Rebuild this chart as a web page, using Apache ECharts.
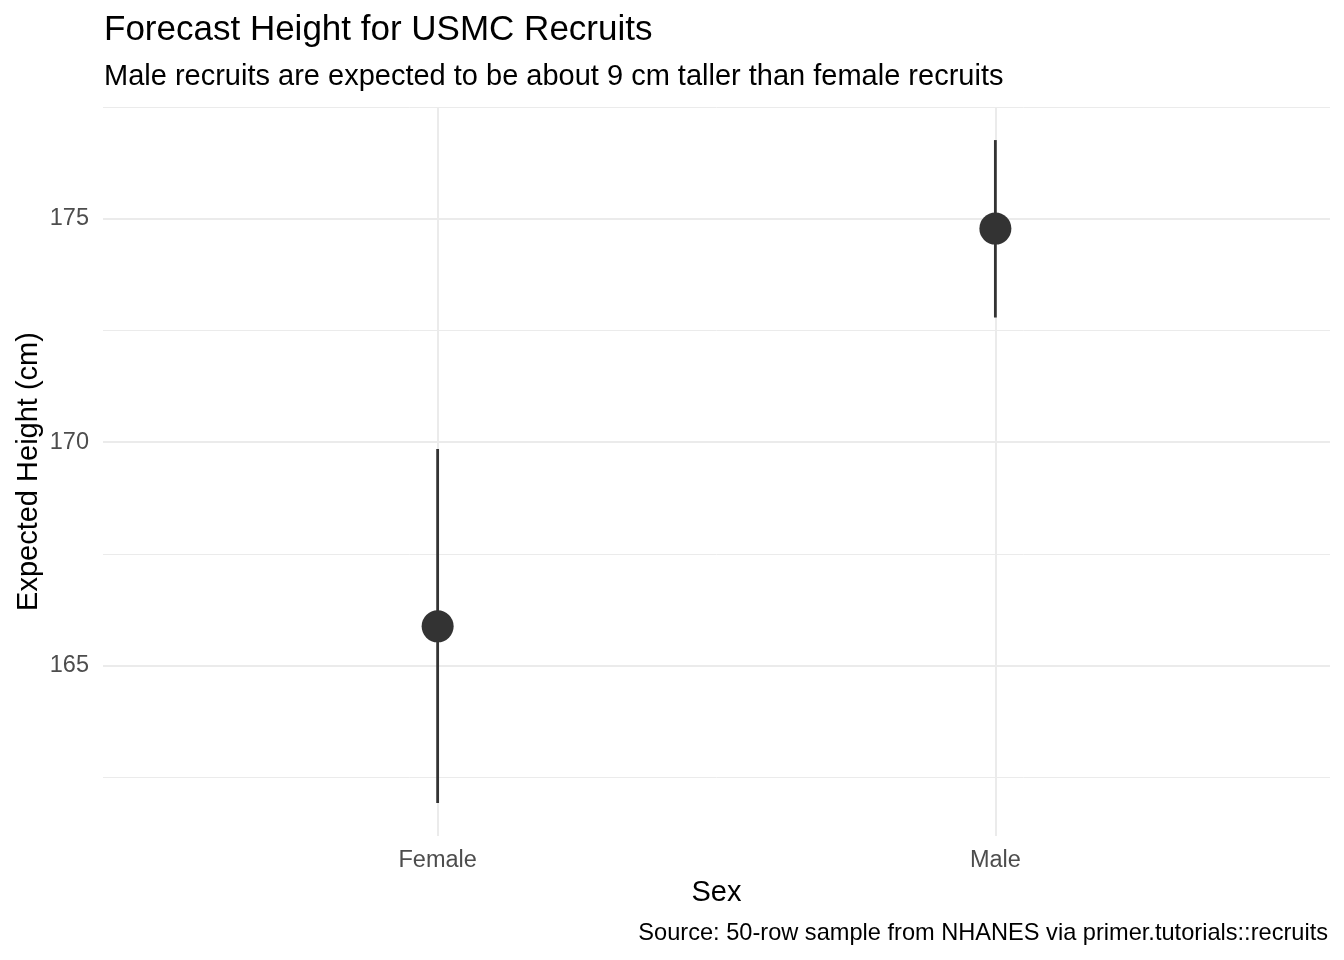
<!DOCTYPE html>
<html><head><meta charset="utf-8">
<script src="https://cdn.jsdelivr.net/npm/echarts@6/dist/echarts.min.js"></script>
<style>html,body{margin:0;padding:0;background:#fff}#c{width:1344px;height:960px}</style>
</head><body><div id="c"></div>
<script>
const categories = ['Female', 'Male'];
const estimates = [165.88, 174.78];
const lower = [161.93, 172.79];
const upper = [169.85, 176.76];
const majorTicks = [165, 170, 175];
const minorTicks = [162.5, 167.5, 172.5, 177.5];
const yRange = [161.19, 177.5];
const titleText = 'Forecast Height for USMC Recruits';
const subtitleText = 'Male recruits are expected to be about 9 cm taller than female recruits';
const captionText = 'Source: 50-row sample from NHANES via primer.tutorials::recruits';
const xTitle = 'Sex';
const yTitle = 'Expected Height (cm)';

const FONT = '"Liberation Sans", Arial, sans-serif';
const xPos = categories.map((c, i) => i + 1);

const chart = echarts.init(document.getElementById('c'), null, {renderer: 'canvas'});
const option = {
  backgroundColor: '#ffffff',
  animation: false,
  textStyle: {fontFamily: FONT},
  title: [
    {text: titleText, left: 99, top: 8, textStyle: {fontFamily: FONT, fontSize: 35, fontWeight: 'normal', color: '#000'}},
    {text: subtitleText, left: 99, top: 57, textStyle: {fontFamily: FONT, fontSize: 29, fontWeight: 'normal', color: '#000'}},
    {text: captionText, right: 11, top: 916, textStyle: {fontFamily: FONT, fontSize: 23.6, fontWeight: 'normal', color: '#000'}}
  ],
  grid: {left: 103, right: 14, top: 107, bottom: 124, containLabel: false},
  xAxis: {
    type: 'value', min: 0.4, max: 2.6,
    name: xTitle, nameLocation: 'middle', nameGap: 42, nameMoveOverlap: false,
    nameTextStyle: {fontFamily: FONT, fontSize: 29, color: '#000'},
    axisLine: {show: false},
    axisTick: {show: false, customValues: xPos},
    axisLabel: {customValues: xPos, margin: 13, fontFamily: FONT, fontSize: 23.5, color: '#4d4d4d',
      formatter: v => categories[Math.round(v) - 1] || ''},
    splitLine: {show: true, lineStyle: {color: '#ebebeb', width: 2}}
  },
  yAxis: [
    {
      type: 'value', min: yRange[0], max: yRange[1],
      name: yTitle, nameLocation: 'middle', nameGap: 60, nameRotate: 90, nameMoveOverlap: false,
      nameTextStyle: {fontFamily: FONT, fontSize: 29, color: '#000'},
      axisLine: {show: false},
      axisTick: {show: false, customValues: majorTicks},
      axisLabel: {customValues: majorTicks, margin: 14, fontFamily: FONT, fontSize: 23.5, color: '#4d4d4d'},
      splitLine: {show: true, lineStyle: {color: '#ebebeb', width: 2}}
    },
    {
      type: 'value', min: yRange[0], max: yRange[1], position: 'left',
      axisLine: {show: false},
      axisTick: {show: false, customValues: minorTicks},
      axisLabel: {show: false, customValues: minorTicks},
      splitLine: {show: true, lineStyle: {color: '#ebebeb', width: 1}}
    }
  ],
  series: [
    {
      type: 'custom', yAxisIndex: 0, z: 3,
      data: xPos.map((x, i) => [x, lower[i], upper[i]]),
      encode: {x: 0, y: [1, 2]},
      renderItem: (params, api) => {
        const lo = api.coord([api.value(0), api.value(1)]);
        const hi = api.coord([api.value(0), api.value(2)]);
        return {type: 'line', shape: {x1: lo[0], y1: lo[1], x2: hi[0], y2: hi[1]},
          style: {stroke: '#333333', lineWidth: 2.8}};
      }
    },
    {
      type: 'scatter', yAxisIndex: 0, z: 4,
      data: xPos.map((x, i) => [x, estimates[i]]),
      symbol: 'circle', symbolSize: 32,
      itemStyle: {color: '#333333', opacity: 1}
    }
  ]
};
chart.setOption(option);
</script>
</body></html>
